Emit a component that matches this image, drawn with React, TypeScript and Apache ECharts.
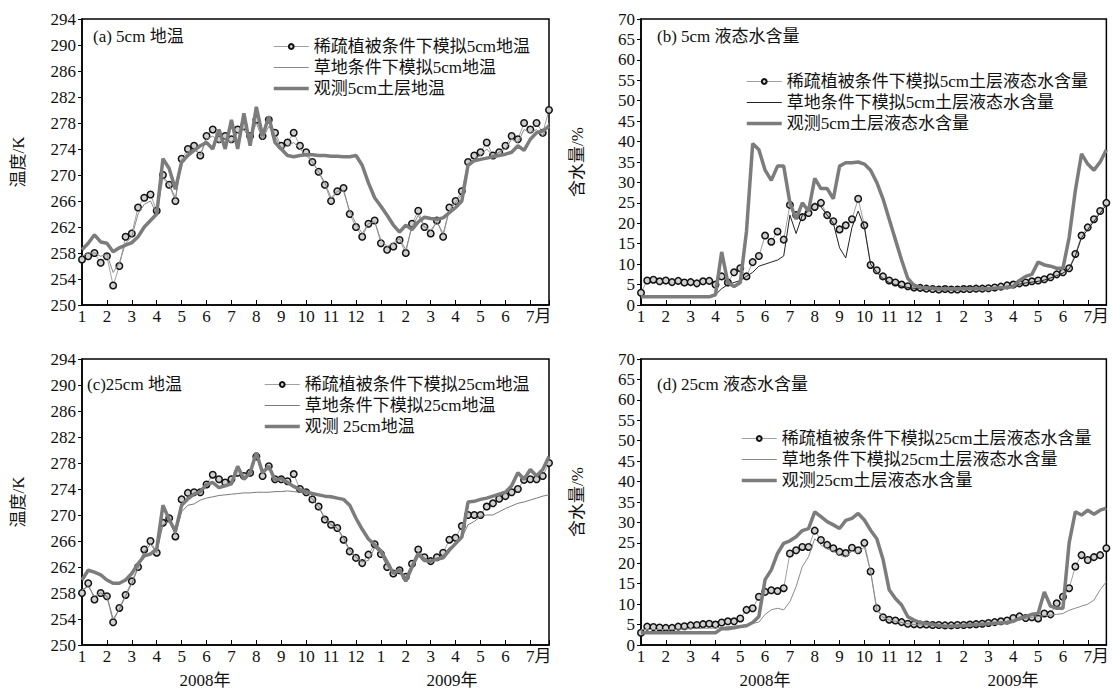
import React, { useEffect, useRef } from 'react';
import * as echarts from 'echarts';

// Sampling step of the series (months since 1 Jan 2008)
const STEP = 0.25;

// x tick labels (one per month, Jan 2008 .. Jul 2009)
const MONTH_LABELS = ['1', '2', '3', '4', '5', '6', '7', '8', '9', '10', '11', '12', '1', '2', '3', '4', '5', '6', '7月'];
const YEAR_LABELS = ['2008年', '2009年'];

// (a) 5cm soil temperature, K
const A_SIM = [
  257.0, 257.5, 258.0, 256.5, 257.5, 253.0, 256.0, 260.5, 261.0, 265.0, 266.5, 267.0,
  264.5, 270.0, 268.5, 266.0, 272.5, 274.0, 274.5, 273.0, 276.0, 277.0, 275.5, 276.0,
  275.5, 277.0, 277.5, 276.0, 278.5, 276.0, 278.5, 276.5, 274.5, 275.0, 276.5, 274.5,
  273.5, 272.0, 270.5, 268.5, 266.0, 267.5, 268.0, 264.0, 262.0, 260.5, 262.5, 263.0,
  259.5, 258.5, 259.0, 260.0, 258.0, 262.5, 264.5, 262.0, 261.0, 263.0, 260.5, 265.0,
  266.0, 267.5, 272.0, 273.0, 273.5, 275.0, 273.0, 273.5, 274.5, 276.0, 275.5, 278.0,
  277.0, 278.0, 276.5, 280.0
];
const A_GRASS = [
  257.5, 258.0, 258.0, 257.5, 257.8, 255.0, 256.5, 259.5, 260.5, 264.0, 265.5, 266.0,
  264.0, 269.5, 268.5, 266.5, 272.0, 273.5, 274.0, 273.0, 275.5, 276.0, 275.0, 275.5,
  275.0, 276.5, 277.0, 275.5, 278.0, 275.5, 277.5, 276.0, 274.0, 274.5, 275.0, 274.0,
  273.0, 272.0, 270.5, 268.8, 266.5, 267.5, 267.5, 264.5, 262.5, 261.0, 262.5, 262.8,
  260.0, 259.0, 259.5, 260.2, 258.5, 262.0, 263.8, 262.0, 261.5, 262.8, 261.0, 264.5,
  265.8, 267.0, 271.5, 272.5, 273.0, 274.0, 273.0, 273.5, 274.0, 275.5, 275.0, 277.0,
  276.5, 277.0, 276.0, 278.0
];
const A_OBS = [
  258.5, 259.5, 260.8, 259.7, 259.5, 258.2, 258.8, 259.2, 259.6, 260.5, 262.0, 263.0,
  264.0, 272.5, 271.0, 267.8, 272.0, 273.0, 273.8, 274.5, 275.0, 274.0, 277.0, 274.0,
  278.5, 274.0, 279.5, 274.5, 280.5, 276.0, 279.0, 275.0, 274.0, 273.0, 272.8, 273.0,
  273.1, 273.1, 273.0, 273.0, 272.9, 272.9, 272.8, 272.8, 273.0, 271.5, 268.8, 266.5,
  265.2, 263.8, 262.3, 261.2, 262.3, 261.6, 262.8, 263.5, 263.3, 263.2, 263.4, 264.2,
  265.0, 266.0, 271.5, 272.2, 272.4, 272.6, 272.8, 273.0, 273.2, 273.5, 274.5, 273.8,
  275.5, 276.5, 276.8, 277.5
];

// (b) 5cm liquid water content, %
const B_SIM = [
  3.0, 6.0, 6.2, 5.8, 6.0, 5.6, 5.9, 5.5, 5.6, 5.3, 5.8, 5.9,
  5.0, 7.0, 5.5, 8.0, 9.0, 7.0, 10.5, 12.0, 17.0, 15.5, 18.0, 16.0,
  24.5, 22.0, 21.5, 22.5, 24.0, 25.0, 22.0, 20.5, 18.5, 19.5, 21.0, 26.0,
  19.5, 9.8, 8.5, 7.0, 6.0, 5.5, 5.0, 4.6, 4.3, 4.2, 4.0, 3.9,
  3.8, 3.9, 3.8, 3.8, 3.9, 3.9, 4.0, 4.0, 4.1, 4.3, 4.5, 4.8,
  5.0, 5.3, 5.5, 5.8, 6.0, 6.3, 6.8, 7.5, 8.0, 9.0, 12.5, 17.0,
  19.0, 21.0, 23.0, 25.0
];
const B_GRASS = [
  2.2, 2.2, 2.2, 2.2, 2.2, 2.2, 2.2, 2.2, 2.2, 2.2, 2.2, 2.3,
  2.5, 4.0, 5.0, 5.5, 6.0, 7.0, 8.0, 9.5, 10.0, 10.5, 11.0, 12.0,
  22.0, 17.5, 22.0, 23.0, 25.0, 24.0, 22.0, 20.0, 14.0, 11.5, 19.0, 23.0,
  19.0, 10.0, 8.0, 6.5, 5.5, 5.0, 4.6, 4.3, 4.1, 4.0, 3.9, 3.8,
  3.7, 3.7, 3.7, 3.7, 3.8, 3.8, 3.8, 3.9, 4.0, 4.2, 4.4, 4.6,
  4.8, 5.1, 5.4, 5.6, 5.8, 6.1, 6.6, 7.2, 7.8, 8.8, 12.0, 16.5,
  18.5, 20.5, 22.5, 24.5
];
const B_OBS = [
  2.0, 2.0, 2.0, 2.0, 2.0, 2.0, 2.0, 2.0, 2.0, 2.0, 2.0, 2.0,
  2.5, 13.0, 5.5, 4.5, 5.5, 18.0, 39.5, 38.0, 33.0, 30.5, 34.0, 34.0,
  25.0, 21.0, 25.0, 23.0, 31.0, 28.5, 28.5, 26.0, 34.0, 34.8, 34.8, 35.0,
  34.5, 33.0, 30.0, 26.0, 21.0, 16.0, 11.0, 6.5, 4.8, 4.3, 4.2, 4.1,
  4.0, 4.0, 4.0, 4.0, 4.0, 4.0, 4.0, 4.0, 4.0, 4.1, 4.2, 4.3,
  4.5, 6.0, 7.0, 7.5, 10.5, 9.8, 9.5, 9.0, 9.0, 16.5, 28.0, 37.0,
  34.5, 33.0, 35.0, 38.0
];

// (c) 25cm soil temperature, K
const C_SIM = [
  258.0, 259.5, 257.0, 258.0, 257.5, 253.5, 255.7, 257.7, 259.8, 262.0, 264.7, 266.0,
  264.2, 268.8, 269.5, 266.7, 272.4, 273.4, 273.5, 273.5, 274.7, 276.2, 275.5, 275.0,
  275.5, 276.5, 276.0, 276.5, 279.0, 276.0, 277.5, 275.5, 275.5, 275.2, 276.3, 274.0,
  273.5, 272.4, 271.3, 269.3, 268.5, 268.0, 266.2, 264.4, 263.4, 262.6, 263.9, 265.5,
  264.0, 262.0, 261.0, 261.5, 260.5, 262.5, 264.7, 263.5, 262.9, 263.5, 264.2, 266.2,
  266.5, 268.3, 270.0, 270.0, 270.0, 271.3, 271.8, 272.5, 272.9, 273.5, 274.0, 275.4,
  275.5, 275.5, 276.0, 278.0
];
const C_GRASS = [
  258.5, 259.0, 257.5, 258.0, 257.5, 254.0, 255.5, 257.5, 259.5, 261.8, 264.3, 265.5,
  264.2, 268.5, 269.0, 267.0, 270.5, 271.5, 271.7, 272.3, 272.6, 272.8, 273.0, 273.1,
  273.2, 273.3, 273.4, 273.4, 273.5, 273.5, 273.5, 273.6, 273.6, 273.7, 273.6, 273.5,
  273.3, 272.5, 271.3, 269.5, 268.5, 268.0, 266.5, 264.6, 263.5, 262.8, 263.0, 265.0,
  264.0, 262.2, 261.0, 261.5, 260.5, 262.3, 264.3, 263.4, 262.8, 263.3, 263.8, 265.0,
  265.5, 266.5, 268.5, 269.0, 269.8, 270.0, 270.0, 270.5, 271.0, 271.4, 271.8, 272.0,
  272.3, 272.6, 272.9, 273.1
];
const C_OBS = [
  260.0, 261.5, 261.2, 260.8, 260.0, 259.5, 259.5, 260.0, 261.0, 262.5, 263.7, 264.0,
  264.8, 271.5, 269.3, 267.5, 271.5, 272.5, 273.2, 273.6, 274.7, 275.0, 274.2, 274.5,
  274.8, 277.5, 275.5, 276.5, 279.6, 276.5, 277.5, 275.4, 275.6, 275.0, 274.4, 273.9,
  273.6, 273.3, 273.1, 272.9, 272.8, 272.6, 272.4, 271.5, 269.5, 267.8, 266.3, 265.4,
  264.5, 262.8, 261.0, 261.6, 259.8, 262.0, 264.0, 263.0, 262.9, 263.2, 263.4, 264.6,
  265.6, 266.6, 272.0, 272.1, 272.4, 272.6, 272.9, 273.2, 273.5, 274.5, 276.5, 275.5,
  277.0, 276.0, 277.0, 279.0
];

// (d) 25cm liquid water content, %
const D_SIM = [
  3.0, 4.5, 4.4, 4.3, 4.2, 4.2, 4.5, 4.6, 4.8, 4.9, 5.1, 5.2,
  5.0, 5.5, 5.8, 5.8, 6.5, 8.6, 9.0, 11.8, 13.0, 13.4, 13.2, 13.9,
  22.4, 23.2, 24.0, 24.0, 28.0, 25.7, 24.5, 23.7, 22.8, 22.5, 23.8, 23.2,
  25.0, 18.0, 9.0, 6.8, 6.2, 6.0, 5.6, 5.2, 5.1, 5.0, 5.0, 4.9,
  4.9, 4.8, 4.8, 4.9, 4.9, 5.0, 5.1, 5.2, 5.4, 5.6, 5.8, 6.0,
  6.6, 7.0, 6.6, 6.8, 6.5, 7.7, 7.5, 10.2, 11.8, 13.9, 19.2, 22.0,
  20.8, 21.5, 22.0, 23.7
];
const D_GRASS = [
  3.8, 3.8, 3.8, 3.8, 3.8, 3.8, 3.9, 3.9, 4.0, 4.0, 4.1, 4.1,
  4.2, 4.3, 4.5, 4.6, 4.8, 5.0, 5.3, 5.6, 7.5, 8.6, 9.0, 8.6,
  10.6, 14.3, 19.2, 21.6, 26.0, 24.5, 23.5, 23.0, 22.0, 21.5, 23.0, 22.5,
  24.0, 18.0, 8.6, 6.8, 6.1, 5.8, 5.5, 5.2, 5.0, 4.9, 4.9, 4.8,
  4.8, 4.8, 4.8, 4.8, 4.9, 5.0, 5.0, 5.1, 5.3, 5.5, 5.6, 5.8,
  6.0, 6.3, 6.5, 6.8, 7.0, 7.2, 7.3, 7.5, 7.7, 8.5, 9.0, 9.5,
  10.0, 11.0, 13.5, 15.5
];
const D_OBS = [
  3.0, 3.0, 3.0, 3.0, 3.0, 3.0, 3.0, 3.0, 3.0, 3.0, 3.0, 3.0,
  3.0, 4.0, 4.0, 4.2, 4.5, 4.7, 5.5, 7.0, 16.0, 18.4, 22.4, 24.9,
  25.5, 26.5, 28.0, 28.5, 32.6, 31.4, 30.2, 29.4, 28.5, 30.5, 31.0, 32.2,
  30.6, 28.1, 26.0, 21.0, 13.5, 11.4, 9.8, 6.9, 6.1, 5.5, 5.3, 5.0,
  4.8, 4.6, 4.6, 4.7, 4.8, 4.9, 5.0, 5.1, 5.2, 5.3, 5.4, 5.5,
  5.8, 6.5, 7.0, 7.5, 7.7, 13.0, 9.5, 9.0, 9.0, 25.0, 32.6, 31.8,
  33.0, 32.0, 33.0, 33.5
];

const A_NAMES = ['稀疏植被条件下模拟5cm地温', '草地条件下模拟5cm地温', '观测5cm土层地温'];
const B_NAMES = ['稀疏植被条件下模拟5cm土层液态水含量', '草地条件下模拟5cm土层液态水含量', '观测5cm土层液态水含量'];
const C_NAMES = ['稀疏植被条件下模拟25cm地温', '草地条件下模拟25cm地温', '观测 25cm地温'];
const D_NAMES = ['稀疏植被条件下模拟25cm土层液态水含量', '草地条件下模拟25cm土层液态水含量', '观测25cm土层液态水含量'];
const TITLES = ['(a) 5cm 地温', '(b) 5cm 液态水含量', '(c)25cm 地温', '(d) 25cm 液态水含量'];

const FONT = "'Liberation Serif', 'Times New Roman', 'Noto Sans CJK SC', serif";
const FS = 17;
const INK = '#111';
const OBS_COLOR = '#7c7c7c';
const OBS_WIDTH = 3.5;

const toPairs = (arr: number[]) => arr.map((v, i) => [i * STEP, v]);

function panelSeries(idx: number, names: string[], sim: number[], grass: number[], obs: number[], grassColor: string) {
  return [
    {
      name: names[0], type: 'line', xAxisIndex: idx, yAxisIndex: idx, data: toPairs(sim),
      symbol: 'circle', symbolSize: 6.5, showSymbol: true,
      lineStyle: { color: '#a0a0a0', width: 1 },
      itemStyle: { color: '#d0d0d0', borderColor: '#111', borderWidth: 1.5 },
      z: 2,
    },
    {
      name: names[1], type: 'line', xAxisIndex: idx, yAxisIndex: idx, data: toPairs(grass),
      symbol: 'none', lineStyle: { color: grassColor, width: 1 }, itemStyle: { color: grassColor }, z: 3,
    },
    {
      name: names[2], type: 'line', xAxisIndex: idx, yAxisIndex: idx, data: toPairs(obs),
      symbol: 'none', lineStyle: { color: OBS_COLOR, width: OBS_WIDTH }, itemStyle: { color: OBS_COLOR }, z: 4,
    },
  ];
}

const GRIDS = [
  { left: 82, top: 19, width: 467, height: 286 },
  { left: 641, top: 19, width: 468, height: 286 },
  { left: 82, top: 359, width: 467, height: 286 },
  { left: 641, top: 359, width: 468, height: 286 },
];

function xAxis(idx: number) {
  return {
    type: 'value', gridIndex: idx, min: 0, max: 18.75, interval: 1,
    axisLine: { lineStyle: { color: '#000', width: 1.5 } },
    axisTick: { show: true, inside: true, length: 5, lineStyle: { color: '#000', width: 1 } },
    splitLine: { show: false },
    axisLabel: {
      margin: 3, fontSize: FS, fontFamily: FONT, color: INK,
      formatter: (v: number) => {
        if (Math.abs(v - Math.round(v)) > 1e-6) return '';
        const i = Math.round(v);
        if (i === MONTH_LABELS.length - 1) return '{h|' + MONTH_LABELS[i] + '}';
        return MONTH_LABELS[i] ?? '';
      },
      rich: { h: { padding: [0, 0, 0, 17], fontSize: FS, fontFamily: FONT, color: INK } },
    },
  };
}

function yAxis(idx: number, min: number, max: number, interval: number, name: string) {
  return {
    type: 'value', gridIndex: idx, min, max, interval,
    name, nameLocation: 'middle', nameGap: 55, nameRotate: 90,
    nameTextStyle: { fontSize: FS, fontFamily: FONT, color: INK },
    axisLine: { show: true, lineStyle: { color: '#000', width: 1.5 } },
    axisTick: { show: true, inside: false, length: 4, lineStyle: { color: '#000', width: 1 } },
    splitLine: { show: false },
    axisLabel: { margin: 6, fontSize: FS, fontFamily: FONT, color: INK },
  };
}

function legend(left: number, top: number, names: string[], grassColor: string) {
  return {
    left, top, orient: 'vertical', itemWidth: 35, itemHeight: 6, itemGap: 4,
    selectedMode: false,
    data: [
      { name: names[0], lineStyle: { width: 1, color: '#a0a0a0' } },
      { name: names[1], itemStyle: { opacity: 0 }, lineStyle: { width: 1, color: grassColor } },
      { name: names[2], itemStyle: { opacity: 0 }, lineStyle: { width: OBS_WIDTH, color: OBS_COLOR } },
    ],
    textStyle: { fontSize: FS, fontFamily: FONT, color: INK, lineHeight: 17 },
  };
}

function txt(x: number, y: number, text: string, align: string) {
  return {
    type: 'text', x, y, silent: true,
    style: { text, fontSize: FS, fontFamily: FONT, fill: INK, textAlign: align, textVerticalAlign: 'middle' },
  };
}

const GRASS_COLORS = ['#8a8a8a', '#222', '#7a7a7a', '#8a8a8a'];

export default function App() {
  const ref = useRef<HTMLDivElement>(null);
  useEffect(() => {
    if (!ref.current) return;
    const chart = echarts.init(ref.current, undefined, { renderer: 'svg' });
    chart.setOption({
      animation: false,
      backgroundColor: '#fff',
      grid: GRIDS.map((g) => ({ ...g, show: true, borderColor: '#000', borderWidth: 1.5, containLabel: false })),
      xAxis: [0, 1, 2, 3].map(xAxis),
      yAxis: [
        yAxis(0, 250, 294, 4, '温度/K'),
        yAxis(1, 0, 70, 5, '含水量/%'),
        yAxis(2, 250, 294, 4, '温度/K'),
        yAxis(3, 0, 70, 5, '含水量/%'),
      ],
      legend: [
        legend(267, 33, A_NAMES, GRASS_COLORS[0]),
        legend(740, 68, B_NAMES, GRASS_COLORS[1]),
        legend(258, 371, C_NAMES, GRASS_COLORS[2]),
        legend(735, 425, D_NAMES, GRASS_COLORS[3]),
      ],
      graphic: [
        txt(93, 36, TITLES[0], 'left'),
        txt(657, 36, TITLES[1], 'left'),
        txt(87, 384, TITLES[2], 'left'),
        txt(657, 384, TITLES[3], 'left'),
        txt(205, 680, YEAR_LABELS[0], 'center'),
        txt(452, 680, YEAR_LABELS[1], 'center'),
        txt(765, 680, YEAR_LABELS[0], 'center'),
        txt(1013, 680, YEAR_LABELS[1], 'center'),
      ],
      series: [
        ...panelSeries(0, A_NAMES, A_SIM, A_GRASS, A_OBS, GRASS_COLORS[0]),
        ...panelSeries(1, B_NAMES, B_SIM, B_GRASS, B_OBS, GRASS_COLORS[1]),
        ...panelSeries(2, C_NAMES, C_SIM, C_GRASS, C_OBS, GRASS_COLORS[2]),
        ...panelSeries(3, D_NAMES, D_SIM, D_GRASS, D_OBS, GRASS_COLORS[3]),
      ],
    });
    return () => chart.dispose();
  }, []);
  return <div ref={ref} style={{ position: 'absolute', left: 0, top: 0, width: 1112, height: 692, background: '#fff' }} />;
}
